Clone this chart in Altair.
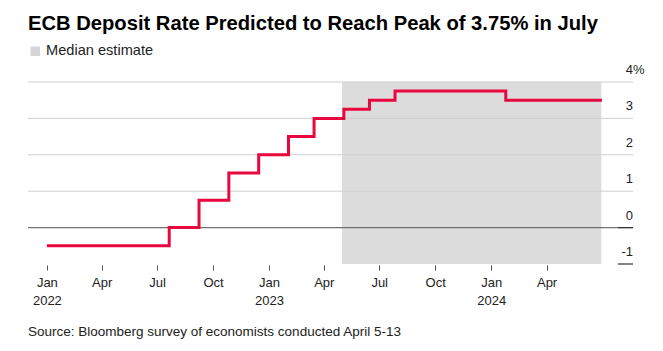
import altair as alt
import pandas as pd

# ---- data ----
step_dates = ["2022-01-01", "2022-07-21", "2022-09-08", "2022-10-27", "2022-12-15",
              "2023-02-02", "2023-03-16", "2023-05-04", "2023-06-15", "2023-07-27",
              "2024-01-25", "2024-07-01"]
step_rates = [-0.5, 0.0, 0.75, 1.5, 2.0, 2.5, 3.0, 3.25, 3.5, 3.75, 3.5, 3.5]

shade_start = ["2023-05-01"]
shade_end = ["2024-06-30"]

grid_values = [4, 3, 2, 1]
ylabel_values = [4, 3, 2, 1, 0, -1]
ylabel_texts = ["4", "3", "2", "1", "0", "-1"]

tick_dates = [(2022, 1), (2022, 4), (2022, 7), (2022, 10), (2023, 1), (2023, 4),
              (2023, 7), (2023, 10), (2024, 1), (2024, 4)]

title_text = "ECB Deposit Rate Predicted to Reach Peak of 3.75% in July"
legend_text = "Median estimate"
source_text = "Source: Bloomberg survey of economists conducted April 5-13"

FONT = "Liberation Sans"
W, H = 605, 182

line_df = pd.DataFrame({"date": step_dates, "rate": step_rates})
shade_df = pd.DataFrame({"start": shade_start, "end": shade_end, "lo": [-1], "hi": [4]})
grid_df = pd.DataFrame({"v": grid_values})
ylab_df = pd.DataFrame({"v": ylabel_values, "t": ylabel_texts})

xscale = alt.Scale(type="utc",
                   domain=[alt.DateTime(year=2021, month=12, date=1, utc=True),
                           alt.DateTime(year=2024, month=8, date=21, utc=True)])
yscale = alt.Scale(domain=[-1, 4], nice=False, zero=False)

xaxis = alt.Axis(
    values=[alt.DateTime(year=y, month=m, date=1, utc=True) for y, m in tick_dates],
    labelExpr="[utcFormat(datum.value, '%b'), utcFormat(datum.value, '%m') == '01' ? utcFormat(datum.value, '%Y') : '']",
    domain=False, grid=False, ticks=True, tickSize=5, tickColor="#555", tickWidth=1,
    labelFont=FONT, labelFontSize=13, labelColor="#222", labelPadding=6,
    labelLineHeight=18, title=None, offset=1, labelFlush=False, labelOverlap=False,
)

shade = alt.Chart(shade_df).mark_rect(color="#dcdcdc").encode(
    x=alt.X("start:T", scale=xscale, axis=xaxis),
    x2="end:T",
    y=alt.Y("lo:Q", scale=yscale, axis=None),
    y2="hi:Q",
)

grid = alt.Chart(grid_df).mark_rule(color="#cfcfcf", strokeWidth=1).encode(
    y=alt.Y("v:Q", scale=yscale, axis=None),
    x=alt.value(0), x2=alt.value(W),
)

zero = alt.Chart(pd.DataFrame({"v": [0]})).mark_rule(color="#707070", strokeWidth=1.2).encode(
    y=alt.Y("v:Q", scale=yscale, axis=None),
    x=alt.value(0), x2=alt.value(W),
)

minus_tick = alt.Chart(pd.DataFrame({"v": [-1, 0]})).mark_rule(color="#333", strokeWidth=1.2).encode(
    y=alt.Y("v:Q", scale=yscale, axis=None),
    x=alt.value(W - 15), x2=alt.value(W),
)

line = alt.Chart(line_df).mark_line(interpolate="step-after", color="#e8073f",
                                    strokeWidth=3, strokeCap="butt", strokeJoin="miter").encode(
    x=alt.X("date:T", scale=xscale),
    y=alt.Y("rate:Q", scale=yscale, axis=None),
)

ylabels = alt.Chart(ylab_df).mark_text(align="right", baseline="middle", dy=-12,
                                       font=FONT, fontSize=13, color="#222").encode(
    y=alt.Y("v:Q", scale=yscale, axis=None),
    x=alt.value(W),
    text="t:N",
)

pct = alt.Chart(pd.DataFrame({"v": [4], "t": ["%"]})).mark_text(
    align="left", baseline="middle", dy=-12, font=FONT, fontSize=13, color="#222").encode(
    y=alt.Y("v:Q", scale=yscale, axis=None),
    x=alt.value(W),
    text="t:N",
)

title = alt.Chart(pd.DataFrame({"t": [title_text]})).mark_text(
    align="left", baseline="alphabetic", font=FONT, fontSize=20.2, fontWeight="bold",
    color="#000").encode(x=alt.value(0), y=alt.value(-52.5), text="t:N")

legend_box = alt.Chart(pd.DataFrame({"t": [legend_text]})).mark_rect(color="#d6d6d6").encode(
    x=alt.value(2.5), x2=alt.value(12), y=alt.value(-35.5), y2=alt.value(-26))

legend_lbl = alt.Chart(pd.DataFrame({"t": [legend_text]})).mark_text(
    align="left", baseline="middle", font=FONT, fontSize=14.6, color="#222").encode(
    x=alt.value(18), y=alt.value(-31), text="t:N")

source = alt.Chart(pd.DataFrame({"t": [source_text]})).mark_text(
    align="left", baseline="middle", font=FONT, fontSize=13.5, color="#222").encode(
    x=alt.value(0), y=alt.value(250), text="t:N")

chart = alt.layer(
    shade, grid, zero, minus_tick, line, ylabels, pct, title, legend_box, legend_lbl, source
).properties(
    width=W, height=H,
    autosize=alt.AutoSizeParams(type="none"),
    padding={"left": 28, "top": 82, "right": 30, "bottom": 87},
).configure(background="white").configure_view(stroke=None)

chart.save("out.html", embed_options={"renderer": "svg", "actions": False})
